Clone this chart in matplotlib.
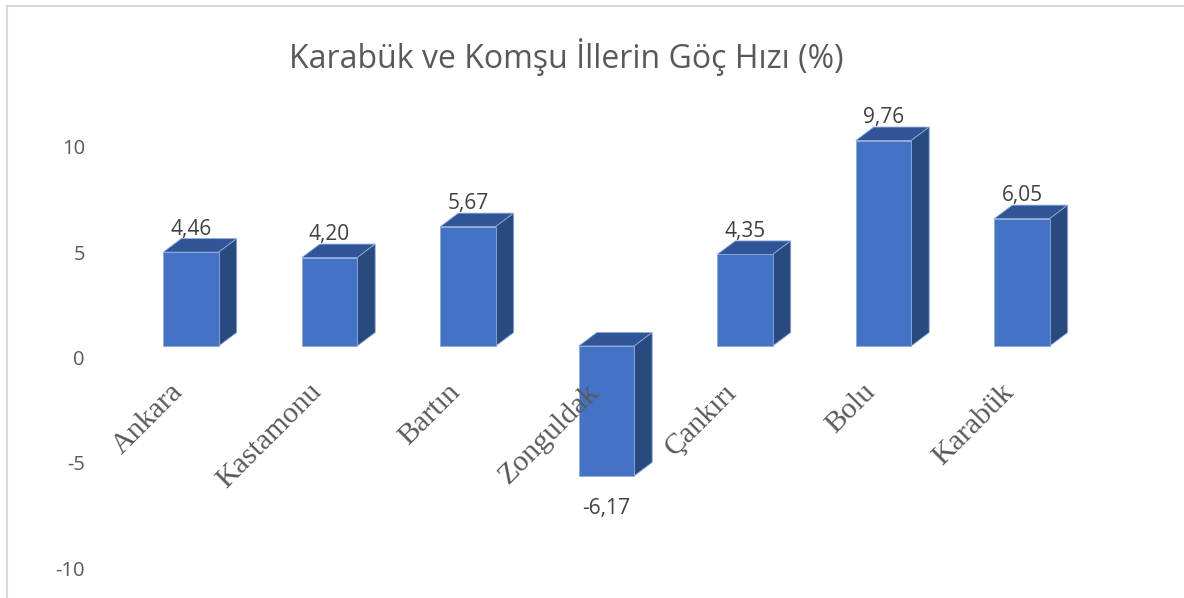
import numpy as np
import matplotlib
matplotlib.use("Agg")
from matplotlib import pyplot as plt
from matplotlib.patches import Polygon
from matplotlib.transforms import ScaledTranslation, blended_transform_factory

# data
cities = ["Ankara", "Kastamonu", "Bartın", "Zonguldak", "Çankırı", "Bolu", "Karabük"]
rates = [4.46, 4.20, 5.67, -6.17, 4.35, 9.76, 6.05]
y_ticks = [-10, -5, 0, 5, 10]
title = "Karabük ve Komşu İllerin Göç Hızı (%)"

FRONT = "#4472C4"
TOP = "#2F5597"
SIDE = "#284A7F"
EDGE = "#8EA9DB"
TEXT = "#595959"

W, H, DPI = 1184, 598, 100
fig = plt.figure(figsize=(W / DPI, H / DPI), dpi=DPI)

# axes placed so category spacing / value scale match the picture
left_px, right_px = 121.75, 1091.25
ax = fig.add_axes([left_px / W, 0, (right_px - left_px) / W, 1])
px_per_unit = 21.05
zero_px = 346
ax.set_xlim(-0.5, len(cities) - 0.5)
ax.set_ylim((zero_px - H) / px_per_unit, zero_px / px_per_unit)
ax.axis("off")

bar_w = 0.4
depth_x = 18 / ((right_px - left_px) / len(cities))
depth_y = 13.5 / px_per_unit

x = np.arange(len(cities))
ax.bar(x, rates, width=bar_w, color=FRONT, edgecolor=EDGE, linewidth=0.6, zorder=3)

for xi, v in zip(x, rates):
    x0, x1 = xi - bar_w / 2, xi + bar_w / 2
    hi = max(v, 0)
    lo = min(v, 0)
    top = [(x0, hi), (x1, hi), (x1 + depth_x, hi + depth_y), (x0 + depth_x, hi + depth_y)]
    side = [(x1, lo), (x1 + depth_x, lo + depth_y), (x1 + depth_x, hi + depth_y), (x1, hi)]
    ax.add_patch(Polygon(top, closed=True, facecolor=TOP, edgecolor=EDGE, linewidth=0.6, zorder=2))
    ax.add_patch(Polygon(side, closed=True, facecolor=SIDE, edgecolor=EDGE, linewidth=0.6, zorder=2))

    label = f"{v:.2f}".replace(".", ",")
    if v >= 0:
        off = ScaledTranslation(0, -1 / DPI, fig.dpi_scale_trans)
        ax.text(xi, v + depth_y, label, ha="center", va="bottom", fontsize=15,
                family="Open Sans", color="#404040", transform=ax.transData + off)
    else:
        off = ScaledTranslation(0, -22 / DPI, fig.dpi_scale_trans)
        ax.text(xi, v, label, ha="center", va="top", fontsize=15,
                family="Open Sans", color="#404040", transform=ax.transData + off)

# category labels, rotated like excel
for xi, name in zip(x, cities):
    off = ScaledTranslation(-12 / DPI, 0, fig.dpi_scale_trans)
    ax.text(xi, (zero_px - 388) / px_per_unit, name, rotation=45, rotation_mode="anchor",
            ha="right", va="center", fontsize=21.5, family="Liberation Serif",
            color=TEXT, transform=ax.transData + off)

# value axis labels, shifted down a bit as in the 3d chart
tick_tr = blended_transform_factory(fig.transFigure, ax.transData)
for t in y_ticks:
    off = ScaledTranslation(0, -14 / DPI, fig.dpi_scale_trans)
    ax.text(85 / W, t, str(t), ha="right", va="center", fontsize=14.5, family="Open Sans",
            color=TEXT, transform=tick_tr + off)

fig.text(566 / W, 1 - 57 / H, title, ha="center", va="center", fontsize=23,
         family="Open Sans", color=TEXT)

# chart area border (top and left visible)
fig.add_artist(plt.Line2D([7 / W, 1], [1 - 5.5 / H, 1 - 5.5 / H], color="#D9D9D9", lw=1.5))
fig.add_artist(plt.Line2D([7 / W, 7 / W], [0, 1 - 5.5 / H], color="#D9D9D9", lw=1.5))

fig.savefig("out.png", dpi=DPI)
